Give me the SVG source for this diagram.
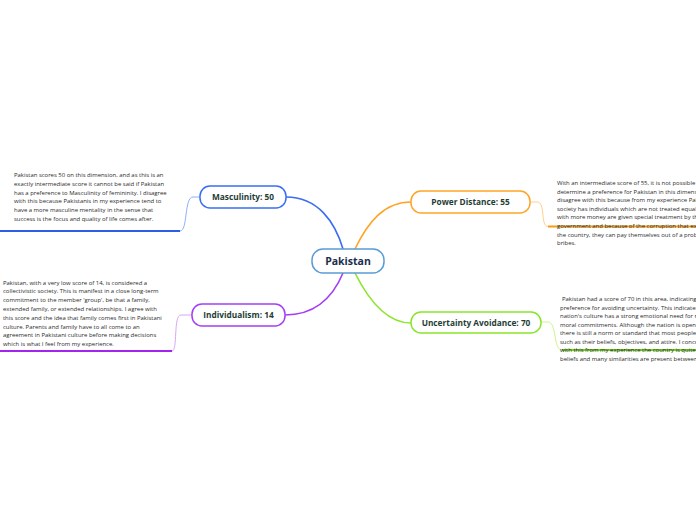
<svg xmlns="http://www.w3.org/2000/svg" width="696" height="520" viewBox="0 0 696 520">
<style>
.node{fill:#ffffff;stroke-width:1.5}
.lbl{font-family:"Open Sans","Noto Sans",sans-serif;font-weight:bold;font-size:8.3px;fill:#1e3d35;text-anchor:middle}
.body{font-family:"Open Sans","Noto Sans",sans-serif;font-size:5.95px;fill:#2b2b2b}
.main{fill:none;stroke-width:1.6}
.sub{fill:none;stroke-width:1}
.und{fill:none;stroke-width:2}
</style>
<rect width="696" height="520" fill="#ffffff"/>
<g id="connectors">
<path class="main" d="M343,249 C335,222 318,197 286,197" stroke="#3a6df2"/>
<path class="main" d="M355,249 C368,222 384,202 411,202" stroke="#ffa424"/>
<path class="main" d="M343,273 C333,297 315,315 285,315" stroke="#a43ef5"/>
<path class="main" d="M355,273 C370,303 388,323 411,323" stroke="#88e62a"/>
<path class="sub" d="M200,197 L193,197 C184,197 188,231 180,231" stroke="#8fb0f7"/>
<path class="und" d="M180,231 L0,231" stroke="#2c5fe3"/>
<path class="sub" d="M192,315 L181,315 C173,315 178,351 172,351" stroke="#d7a6f7"/>
<path class="und" d="M172,351 L0,351" stroke="#a424ef"/>
<path class="sub" d="M530,202 L537,202 C546,202 540,226.5 548,226.5" stroke="#ffd08a"/>
<path class="und" d="M548,226.5 L696,226.5" stroke="#f59c12"/>
<path class="sub" d="M541,322 L548,322 C557,322 553,350 562,350" stroke="#c8f58a"/>
<path class="und" d="M562,350 L696,350" stroke="#6fd81a"/>
</g>
<g id="pakistan">
<rect class="node" x="312" y="249" width="72" height="24" rx="11" stroke="#5b9bd5"/>
<text x="348" y="265" font-family="Open Sans, Noto Sans, sans-serif" font-weight="bold" font-size="10.5" fill="#1a2e4f" text-anchor="middle">Pakistan</text>
</g>
<g id="masculinity">
<rect class="node" x="200" y="186" width="86" height="22" rx="10" stroke="#3a6df2"/>
<text class="lbl" x="243" y="200">Masculinity: 50</text>
</g>
<g id="power-distance">
<rect class="node" x="411" y="191" width="119" height="22" rx="10" stroke="#ffa424"/>
<text class="lbl" x="470.5" y="205">Power Distance: 55</text>
</g>
<g id="individualism">
<rect class="node" x="192" y="304" width="93" height="22" rx="10" stroke="#a43ef5"/>
<text class="lbl" x="238.5" y="318">Individualism: 14</text>
</g>
<g id="uncertainty-avoidance">
<rect class="node" x="411" y="312" width="130" height="21" rx="10" stroke="#88e62a"/>
<text class="lbl" x="476" y="325.5">Uncertainty Avoidance: 70</text>
</g>
<g id="masculinity-text">
<text class="body">
<tspan x="14" y="177">Pakistan scores 50 on this dimension, and as this is an</tspan>
<tspan x="14" y="185.8">exactly intermediate score it cannot be said if Pakistan</tspan>
<tspan x="14" y="194.6">has a preference to Masculinity of femininity.  I disagree</tspan>
<tspan x="14" y="203.4">with this because Pakistanis in my experience tend to</tspan>
<tspan x="14" y="212.2">have a more masculine mentality in the sense that</tspan>
<tspan x="14" y="221">success is the focus and quality of life comes after.</tspan>
</text>
</g>
<g id="individualism-text">
<text class="body">
<tspan x="3" y="284.5">Pakistan, with a very low score of 14, is considered a</tspan>
<tspan x="3" y="293.3">collectivistic society. This is manifest in a close long-term</tspan>
<tspan x="3" y="302.1">commitment to the member 'group', be that a family,</tspan>
<tspan x="3" y="310.9">extended family, or extended relationships. I agree with</tspan>
<tspan x="3" y="319.7">this score and the idea that family comes first in Pakistani</tspan>
<tspan x="3" y="328.5">culture. Parents and family have to all come to an</tspan>
<tspan x="3" y="337.3">agreement in Pakistani culture before making decisions</tspan>
<tspan x="3" y="346.1">which is what I feel from my experience.</tspan>
</text>
</g>
<g id="power-distance-text">
<text class="body">
<tspan x="557" y="185">With an intermediate score of 55, it is not possible to</tspan>
<tspan x="557" y="193.6">determine a preference for Pakistan in this dimension. I</tspan>
<tspan x="557" y="202.2">disagree with this because from my experience Pakistani</tspan>
<tspan x="557" y="210.8">society has individuals which are not treated equally, those</tspan>
<tspan x="557" y="219.4">with more money are given special treatment by the</tspan>
<tspan x="557" y="228">government and because of the corruption that exists in</tspan>
<tspan x="557" y="236.6">the country, they can pay themselves out of a problem with</tspan>
<tspan x="557" y="245.2">bribes.</tspan>
</text>
</g>
<g id="uncertainty-text">
<text class="body">
<tspan x="562" y="301">Pakistan had a score of 70 in this area, indicating a</tspan>
<tspan x="560" y="309.5">preference for avoiding uncertainty. This indicates the</tspan>
<tspan x="560" y="318">nation's culture has a strong emotional need for rules and</tspan>
<tspan x="560" y="326.5">moral commitments. Although the nation is open to change,</tspan>
<tspan x="560" y="335">there is still a norm or standard that most people follow</tspan>
<tspan x="560" y="343.5">such as their beliefs, objectives, and attire. I concur</tspan>
<tspan x="560" y="352">with this from my experience the country is quite set in its</tspan>
<tspan x="560" y="360.5">beliefs and many similarities are present between people.</tspan>
</text>
</g>
</svg>
